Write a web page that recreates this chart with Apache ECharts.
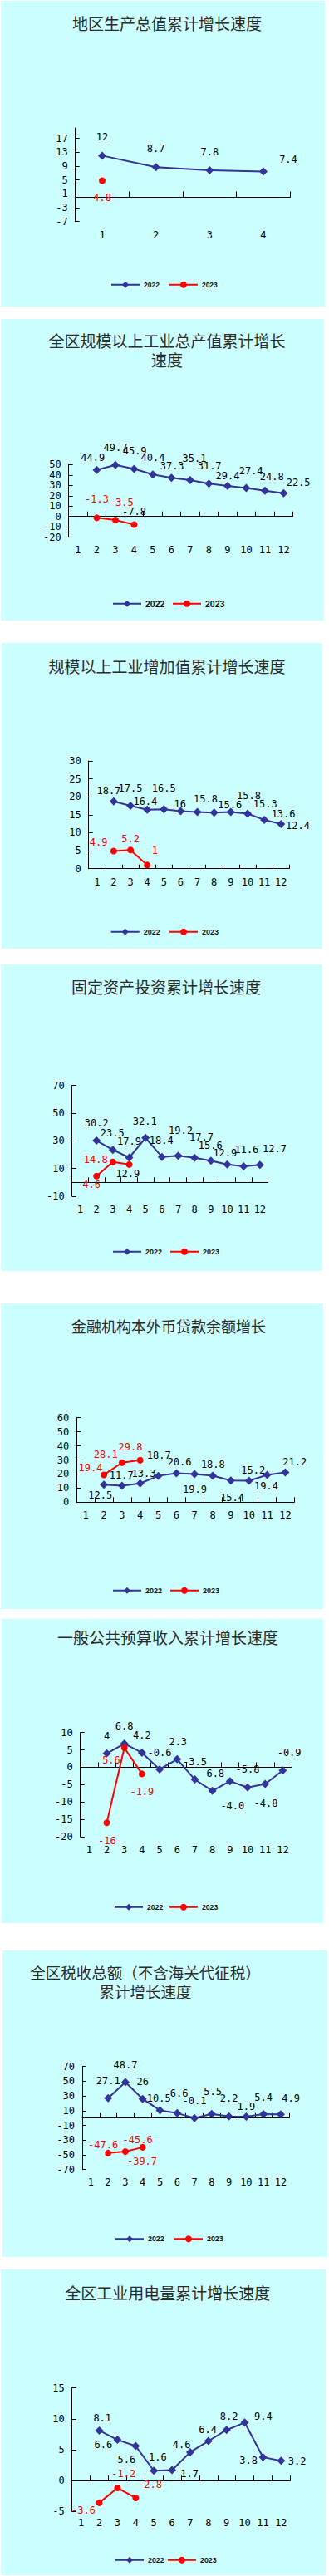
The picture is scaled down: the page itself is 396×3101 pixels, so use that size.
<!DOCTYPE html>
<html><head><meta charset="utf-8">
<script src="https://cdn.jsdelivr.net/npm/echarts@6/dist/echarts.min.js"></script>
<style>html,body{margin:0;padding:0;background:#fff}#c{width:396px;height:3101px}</style>
</head><body><div id="c"></div>
<script>
// ---------------- DATA ----------------
const SERIES_NAMES = ['2022', '2023'];
const QUARTERS = ['1', '2', '3', '4'];
const MONTHS = ['1','2','3','4','5','6','7','8','9','10','11','12'];

// 1 地区生产总值累计增长速度
const GDP_2022 = [12, 8.7, 7.8, 7.4];
const GDP_2023 = [4.8, null, null, null];
const GDP_TICKS = [-7, -3, 1, 5, 9, 13, 17];

// 2 全区规模以上工业总产值累计增长速度
const IND_OUT_2022 = [null, 44.9, 49.7, 45.9, 40.4, 37.3, 35.1, 31.7, 29.4, 27.4, 24.8, 22.5];
const IND_OUT_2023 = [null, -1.3, -3.5, -7.8, null, null, null, null, null, null, null, null];
const IND_OUT_TICKS = [-20, -10, 0, 10, 20, 30, 40, 50];

// 3 规模以上工业增加值累计增长速度
const IND_ADD_2022 = [null, 18.7, 17.5, 16.4, 16.5, 16, 15.8, 15.6, 15.8, 15.3, 13.6, 12.4];
const IND_ADD_2023 = [null, 4.9, 5.2, 1, null, null, null, null, null, null, null, null];
const IND_ADD_TICKS = [0, 5, 10, 15, 20, 25, 30];

// 4 固定资产投资累计增长速度
const FAI_2022 = [null, 30.2, 23.5, 17.9, 32.1, 18.4, 19.2, 17.7, 15.6, 12.9, 11.6, 12.7];
const FAI_2023 = [null, 4.6, 14.8, 12.9, null, null, null, null, null, null, null, null];
const FAI_TICKS = [-10, 10, 30, 50, 70];

// 5 金融机构本外币贷款余额增长
const LOAN_2022 = [null, 12.5, 11.7, 13.3, 18.7, 20.6, 19.9, 18.8, 15.4, 15.2, 19.4, 21.2];
const LOAN_2023 = [null, 19.4, 28.1, 29.8, null, null, null, null, null, null, null, null];
const LOAN_TICKS = [0, 10, 20, 30, 40, 50, 60];

// 6 一般公共预算收入累计增长速度
const BUDGET_2022 = [null, 4, 6.8, 4.2, -0.6, 2.3, -3.5, -6.8, -4.0, -5.8, -4.8, -0.9];
const BUDGET_2023 = [null, -16, 5.6, -1.9, null, null, null, null, null, null, null, null];
const BUDGET_TICKS = [-20, -15, -10, -5, 0, 5, 10];

// 7 全区税收总额（不含海关代征税）累计增长速度
const TAX_2022 = [null, 27.1, 48.7, 26, 10.5, 6.6, -0.1, 5.5, 2.2, 1.9, 5.4, 4.9];
const TAX_2023 = [null, -47.6, -45.6, -39.7, null, null, null, null, null, null, null, null];
const TAX_TICKS = [-70, -50, -30, -10, 10, 30, 50, 70];

// 8 全区工业用电量累计增长速度
const POWER_2022 = [null, 8.1, 6.6, 5.6, 1.6, 1.7, 4.6, 6.4, 8.2, 9.4, 3.8, 3.2];
const POWER_2023 = [null, -3.6, -1.2, -2.8, null, null, null, null, null, null, null, null];
const POWER_TICKS = [-5, 0, 5, 10, 15];

// ---------------- LAYOUT / STYLE ----------------
const PANELS = [
  { title: '地区生产总值累计增长速度', tx: 201, ty: 27, ts: 19,
    bg: [1, 1, 390, 368], grid: [90.7, 154, 258.6, 112.7], ymin: -7, ymax: 20, ticks: GDP_TICKS,
    cats: QUARTERS, a: GDP_2022, b: GDP_2023, xm: 10, xTick: 7,
    leg: [133, 344.3, 8.5, 11],
    offA: [[0,-22],[0,-22],[0,-21.6],[30,-14.3]],
    offB: [[0,21]] },
  { title: '全区规模以上工业总产值累计增长\n速度', tx: 201, ty: 421.3, ts: 19,
    bg: [1, 384, 389, 363], grid: [82.7, 559.3, 270, 87.4], ymin: -20, ymax: 50, ticks: IND_OUT_TICKS,
    cats: MONTHS, a: IND_OUT_2022, b: IND_OUT_2023, xm: 9.5, xTick: 6,
    leg: [135, 727.3, 10.5, 8.6],
    offA: [null,[-4.7,-14.7],[0,-21],[0.7,-21],[0,-20],[0.7,-14],[5,-25.7],[0.7,-21],[0,-12.3],[5.7,-20.7],[8.3,-16.7],[17.7,-13]],
    offB: [null,[0,-22.3],[7.3,-21],[0,-15]], blackB: [3] },
  { title: '规模以上工业增加值累计增长速度', tx: 201, ty: 801.7, ts: 19,
    bg: [2, 774, 386, 368], grid: [106.7, 916, 241.6, 129.7], ymin: 0, ymax: 30, ticks: IND_ADD_TICKS,
    cats: MONTHS, a: IND_ADD_2022, b: IND_ADD_2023, xm: 10.5, xTick: 5,
    leg: [132.7, 1123.3, 9, 10.3],
    offA: [null,[-6,-13],[0,-20.7],[-2.3,-9.7],[0,-25.7],[-0.7,-8.7],[10,-15.7],[19,-9.3],[21.7,-19.7],[21.3,-11.3],[23,-7.3],[20.3,1.7]],
    offB: [null,[-18.3,-10.7],[0,-13.7],[9.3,-17.3]] },
  { title: '固定资产投资累计增长速度', tx: 200, ty: 1187.3, ts: 19,
    bg: [1, 1161, 387, 369], grid: [86.7, 1306.7, 236, 133.3], ymin: -10, ymax: 70, ticks: FAI_TICKS,
    cats: MONTHS, a: FAI_2022, b: FAI_2023, xm: 10, xTick: 6,
    leg: [135, 1508.3, 9, 9],
    offA: [null,[0,-20.7],[-0.7,-19.7],[0,-20],[-1,-20.3],[-0.7,-20],[3,-30],[8.3,-24.7],[-0.7,-18.3],[-2.7,-13.7],[3.7,-19.7],[17.7,-19.3]],
    offB: [null,[-6,10.3],[-20.7,-2.7],[-1.7,10.7]], blackB: [3] },
  { title: '金融机构本外币贷款余额增长', tx: 203, ty: 1596, ts: 18,
    bg: [1, 1569, 388, 368], grid: [92.3, 1706.7, 262, 101.6], ymin: 0, ymax: 60, ticks: LOAN_TICKS,
    cats: MONTHS, a: LOAN_2022, b: LOAN_2023, xm: 10, xTick: 6,
    leg: [135, 1916.3, 9, 9],
    offA: [null,[-4.3,12.7],[-0.7,-12],[4.3,-11.7],[0.7,-24.3],[3.7,-13.7],[0.3,18],[0.3,-13],[1.7,20.7],[5,-13],[-1,13.7],[11.3,-12.7]],
    offB: [null,[-16,-8.7],[-19.7,-9.7],[-11.7,-16.3]] },
  { title: '一般公共预算收入累计增长速度', tx: 202, ty: 1970.7, ts: 19,
    bg: [2, 1949, 387, 366], grid: [96.7, 2085.7, 254.3, 125.3], ymin: -20, ymax: 10, ticks: BUDGET_TICKS,
    cats: MONTHS, a: BUDGET_2022, b: BUDGET_2023, xm: 9.5, xTick: 6,
    leg: [137, 2297.3, 8.7, 6.6], textA: { 8: '-4.0' },
    offA: [null,[0,-21],[0,-20.7],[0,-20.7],[0,-20.3],[1,-20.7],[0,-20.7],[0,-21.3],[3,30],[0,-21.3],[0.7,23],[7.7,-21.7]],
    offB: [null,[0.3,21.7],[-15.7,15.3],[0,22]] },
  { title: '全区税收总额（不含海关代征税）\n累计增长速度', tx: 175, ty: 2385.3, ts: 18.5,
    bg: [3, 2348, 391, 369], grid: [99, 2487.7, 249.3, 124], ymin: -70, ymax: 70, ticks: TAX_TICKS,
    cats: MONTHS, a: TAX_2022, b: TAX_2023, xm: 9, xTick: 6,
    leg: [138, 2696.7, 8.9, 11.2],
    offA: [null,[0,-21],[0,-21],[0,-21],[-1.3,-14.3],[2.3,-24],[0,-21],[1.3,-26.7],[0,-21.7],[0,-12.3],[0,-20.3],[12.3,-19.7]],
    offB: [null,[-6,-10],[14.7,-14],[-0.7,17]] },
  { title: '全区工业用电量累计增长速度', tx: 201.7, ty: 2759, ts: 19,
    bg: [1, 2732, 391, 368], grid: [86.7, 2874.7, 262.6, 148.6], ymin: -5, ymax: 15, ticks: POWER_TICKS,
    cats: MONTHS, a: POWER_2022, b: POWER_2023, xm: 7.5, xTick: 6,
    leg: [138, 3083.3, 8.9, 3.2],
    offA: [null,[3.7,-15],[-17,6],[-11,16.7],[4.7,-16.3],[21,4.3],[-10.3,-8.7],[-0.7,-14],[3,-16.3],[22.3,-7.7],[-17.3,3.7],[19.3,1]],
    offB: [null,[-19,8.7],[7.3,-17],[17.3,-15.7]] }
];

const BLUE = '#333399', RED = '#ff0000';
const NUMFONT = '"DejaVu Sans Mono", "Liberation Mono", monospace';
const CJK = '"Noto Sans CJK SC", sans-serif';

const grid = [], xAxis = [], yAxis = [], series = [], legend = [], graphic = [];

PANELS.forEach((p, i) => {
  graphic.push({ type: 'rect', silent: true, z: -10,
    shape: { x: p.bg[0], y: p.bg[1], width: p.bg[2], height: p.bg[3] },
    style: { fill: '#ccffff' } });
  graphic.push({ type: 'text', silent: true, z: 10, x: p.tx, y: p.ty,
    style: { text: p.title, fill: '#2a2a2a', font: p.ts + 'px ' + CJK,
      textAlign: 'center', textVerticalAlign: 'middle', lineHeight: 22.7 } });

  grid.push({ left: p.grid[0], top: p.grid[1], width: p.grid[2], height: p.grid[3], containLabel: false });

  xAxis.push({ type: 'category', gridIndex: i, data: p.cats, boundaryGap: true,
    axisLine: { show: true, onZero: true, lineStyle: { color: '#000', width: 1 } },
    axisTick: { show: true, inside: true, length: p.xTick, interval: 0, lineStyle: { color: '#000' } },
    axisLabel: { interval: 0, margin: p.xm, color: '#000', fontSize: 12, fontFamily: NUMFONT,
      showMinLabel: true, showMaxLabel: true },
    splitLine: { show: false } });

  yAxis.push({ type: 'value', gridIndex: i, min: p.ymin, max: p.ymax,
    axisLine: { show: true, lineStyle: { color: '#000', width: 1 } },
    axisTick: { show: true, inside: true, length: 5, customValues: p.ticks, lineStyle: { color: '#000' } },
    axisLabel: { show: true, margin: 9, customValues: p.ticks, color: '#000', fontSize: 12, fontFamily: NUMFONT,
      showMinLabel: true, showMaxLabel: true },
    splitLine: { show: false } });

  const mk = (vals, offs, textOv, blackIdx) => vals.map((v, j) => {
    if (v == null) return null;
    const o = (offs && offs[j]) || [0, -20];
    const item = { value: v, label: { offset: o } };
    if (blackIdx && blackIdx.indexOf(j) >= 0) item.label.color = '#000';
    if (textOv && textOv[j] != null) { const t = textOv[j]; item.label.formatter = () => t; }
    return item;
  });

  series.push({ name: SERIES_NAMES[0], type: 'line', xAxisIndex: i, yAxisIndex: i,
    data: mk(p.a, p.offA, p.textA, null),
    symbol: 'diamond', symbolSize: 10, z: 3,
    lineStyle: { color: BLUE, width: 2 }, itemStyle: { color: BLUE },
    label: { show: true, position: 'inside', color: '#000', fontSize: 12, fontFamily: NUMFONT },
    emphasis: { disabled: true } });
  series.push({ name: SERIES_NAMES[1], type: 'line', xAxisIndex: i, yAxisIndex: i,
    data: mk(p.b, p.offB, null, p.blackB),
    symbol: 'circle', symbolSize: 8, z: 4,
    lineStyle: { color: RED, width: 2 }, itemStyle: { color: RED },
    label: { show: true, position: 'inside', color: RED, fontSize: 12, fontFamily: NUMFONT },
    emphasis: { disabled: true } });

  legend.push({ data: SERIES_NAMES, left: p.leg[0], top: p.leg[1] - 6, padding: 0,
    itemWidth: 34, itemHeight: 10, itemGap: p.leg[3], selectedMode: false,
    textStyle: { fontSize: p.leg[2], color: '#111', fontFamily: '"Liberation Sans", Arial, sans-serif', fontWeight: 'bold' } });
});

const chart = echarts.init(document.getElementById('c'), null, { renderer: 'svg', width: 396, height: 3101 });
chart.setOption({ animation: false, backgroundColor: '#ffffff', grid, xAxis, yAxis, series, legend, graphic });
</script>
</body></html>
